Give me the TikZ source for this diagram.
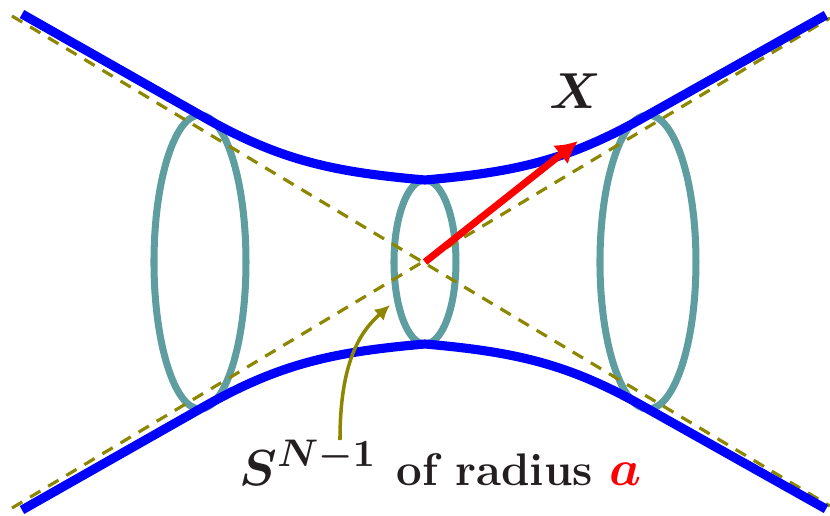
\documentclass[tikz,border=0pt]{standalone}
\usepackage{bm}
\usetikzlibrary{arrows.meta}
\definecolor{ringteal}{RGB}{95,158,160}
\definecolor{inkgray}{RGB}{35,31,32}
\newcommand{\mathsz}{\fontsize{15.5}{18}\selectfont}
\newcommand{\textsz}{\fontsize{13}{16}\selectfont}

\begin{document}
\begin{tikzpicture}[
    branch/.style={draw=blue, line width=2.6pt, line join=round},
    ring/.style={draw=ringteal, line width=2pt},
    asymp/.style={draw=olive, line width=0.9pt, dash pattern=on 3.4pt off 2.6pt},
    vecarrow/.style={draw=red, line width=2pt, -{Latex[length=2.2mm,width=2.4mm]}},
    pointer/.style={draw=olive, line width=1pt, -{Latex[length=1.5mm,width=1.5mm]}},
    lbl/.style={text=inkgray, inner sep=0pt},
]
\useasboundingbox (-4.25,-2.54) rectangle (4.05,2.62);

% =================================================================
%  RINGS
% =================================================================
\draw[ring] (-2.25,0) ellipse (0.46 and 1.47);
\draw[ring] (0,0)     ellipse (0.31 and 0.82);
\draw[ring] (2.23,0)  ellipse (0.48 and 1.47);

% =================================================================
%  ASYMPTOTES
% =================================================================
\coordinate (O)  at (0,0);
\coordinate (a1) at (-4.13, 2.46);
\coordinate (a2) at (4.05, -2.44);
\coordinate (a3) at (-4.13, -2.46);
\coordinate (a4) at (4.05, 2.44);
\draw[asymp] (a1) -- (a2);
\draw[asymp] (a3) -- (a4);

% =================================================================
%  BRANCHES
% =================================================================
\draw[branch] (-4.03, 2.48) -- (-2.25, 1.47) to[out=-30, in=175] (0, 0.82)
              to[out=5, in=-150] (2.23, 1.47) -- (4.01, 2.47);
\draw[branch] (-4.03,-2.48) -- (-2.25,-1.47) to[out=30, in=-175] (0,-0.82)
              to[out=-5, in=150] (2.23,-1.47) -- (4.01,-2.47);

% =================================================================
%  VECTOR X
% =================================================================
\coordinate (Xtip) at (1.53, 1.21);
\draw[vecarrow] (O) -- (Xtip);
\node[lbl, font=\Large] (Xlbl) at (1.50, 1.71) {$\bm{X}$};

% =================================================================
%  LABEL
% =================================================================
\node[lbl, anchor=base west, font=\Large] (sph) at (-1.86,-2.23)
    {{\mathsz$\bm{S^{N-1}}$}\hspace{1pt} {\textsz\textbf{of radius}}
     {\mathsz\textcolor{red}{$\bm{a}$}}};
\coordinate (ptail) at (-0.85,-1.78);
\coordinate (phead) at (-0.35,-0.43);
\draw[pointer] (ptail) .. controls (-0.85,-1.0) and (-0.65,-0.7) .. (phead);

\end{tikzpicture}
\end{document}
